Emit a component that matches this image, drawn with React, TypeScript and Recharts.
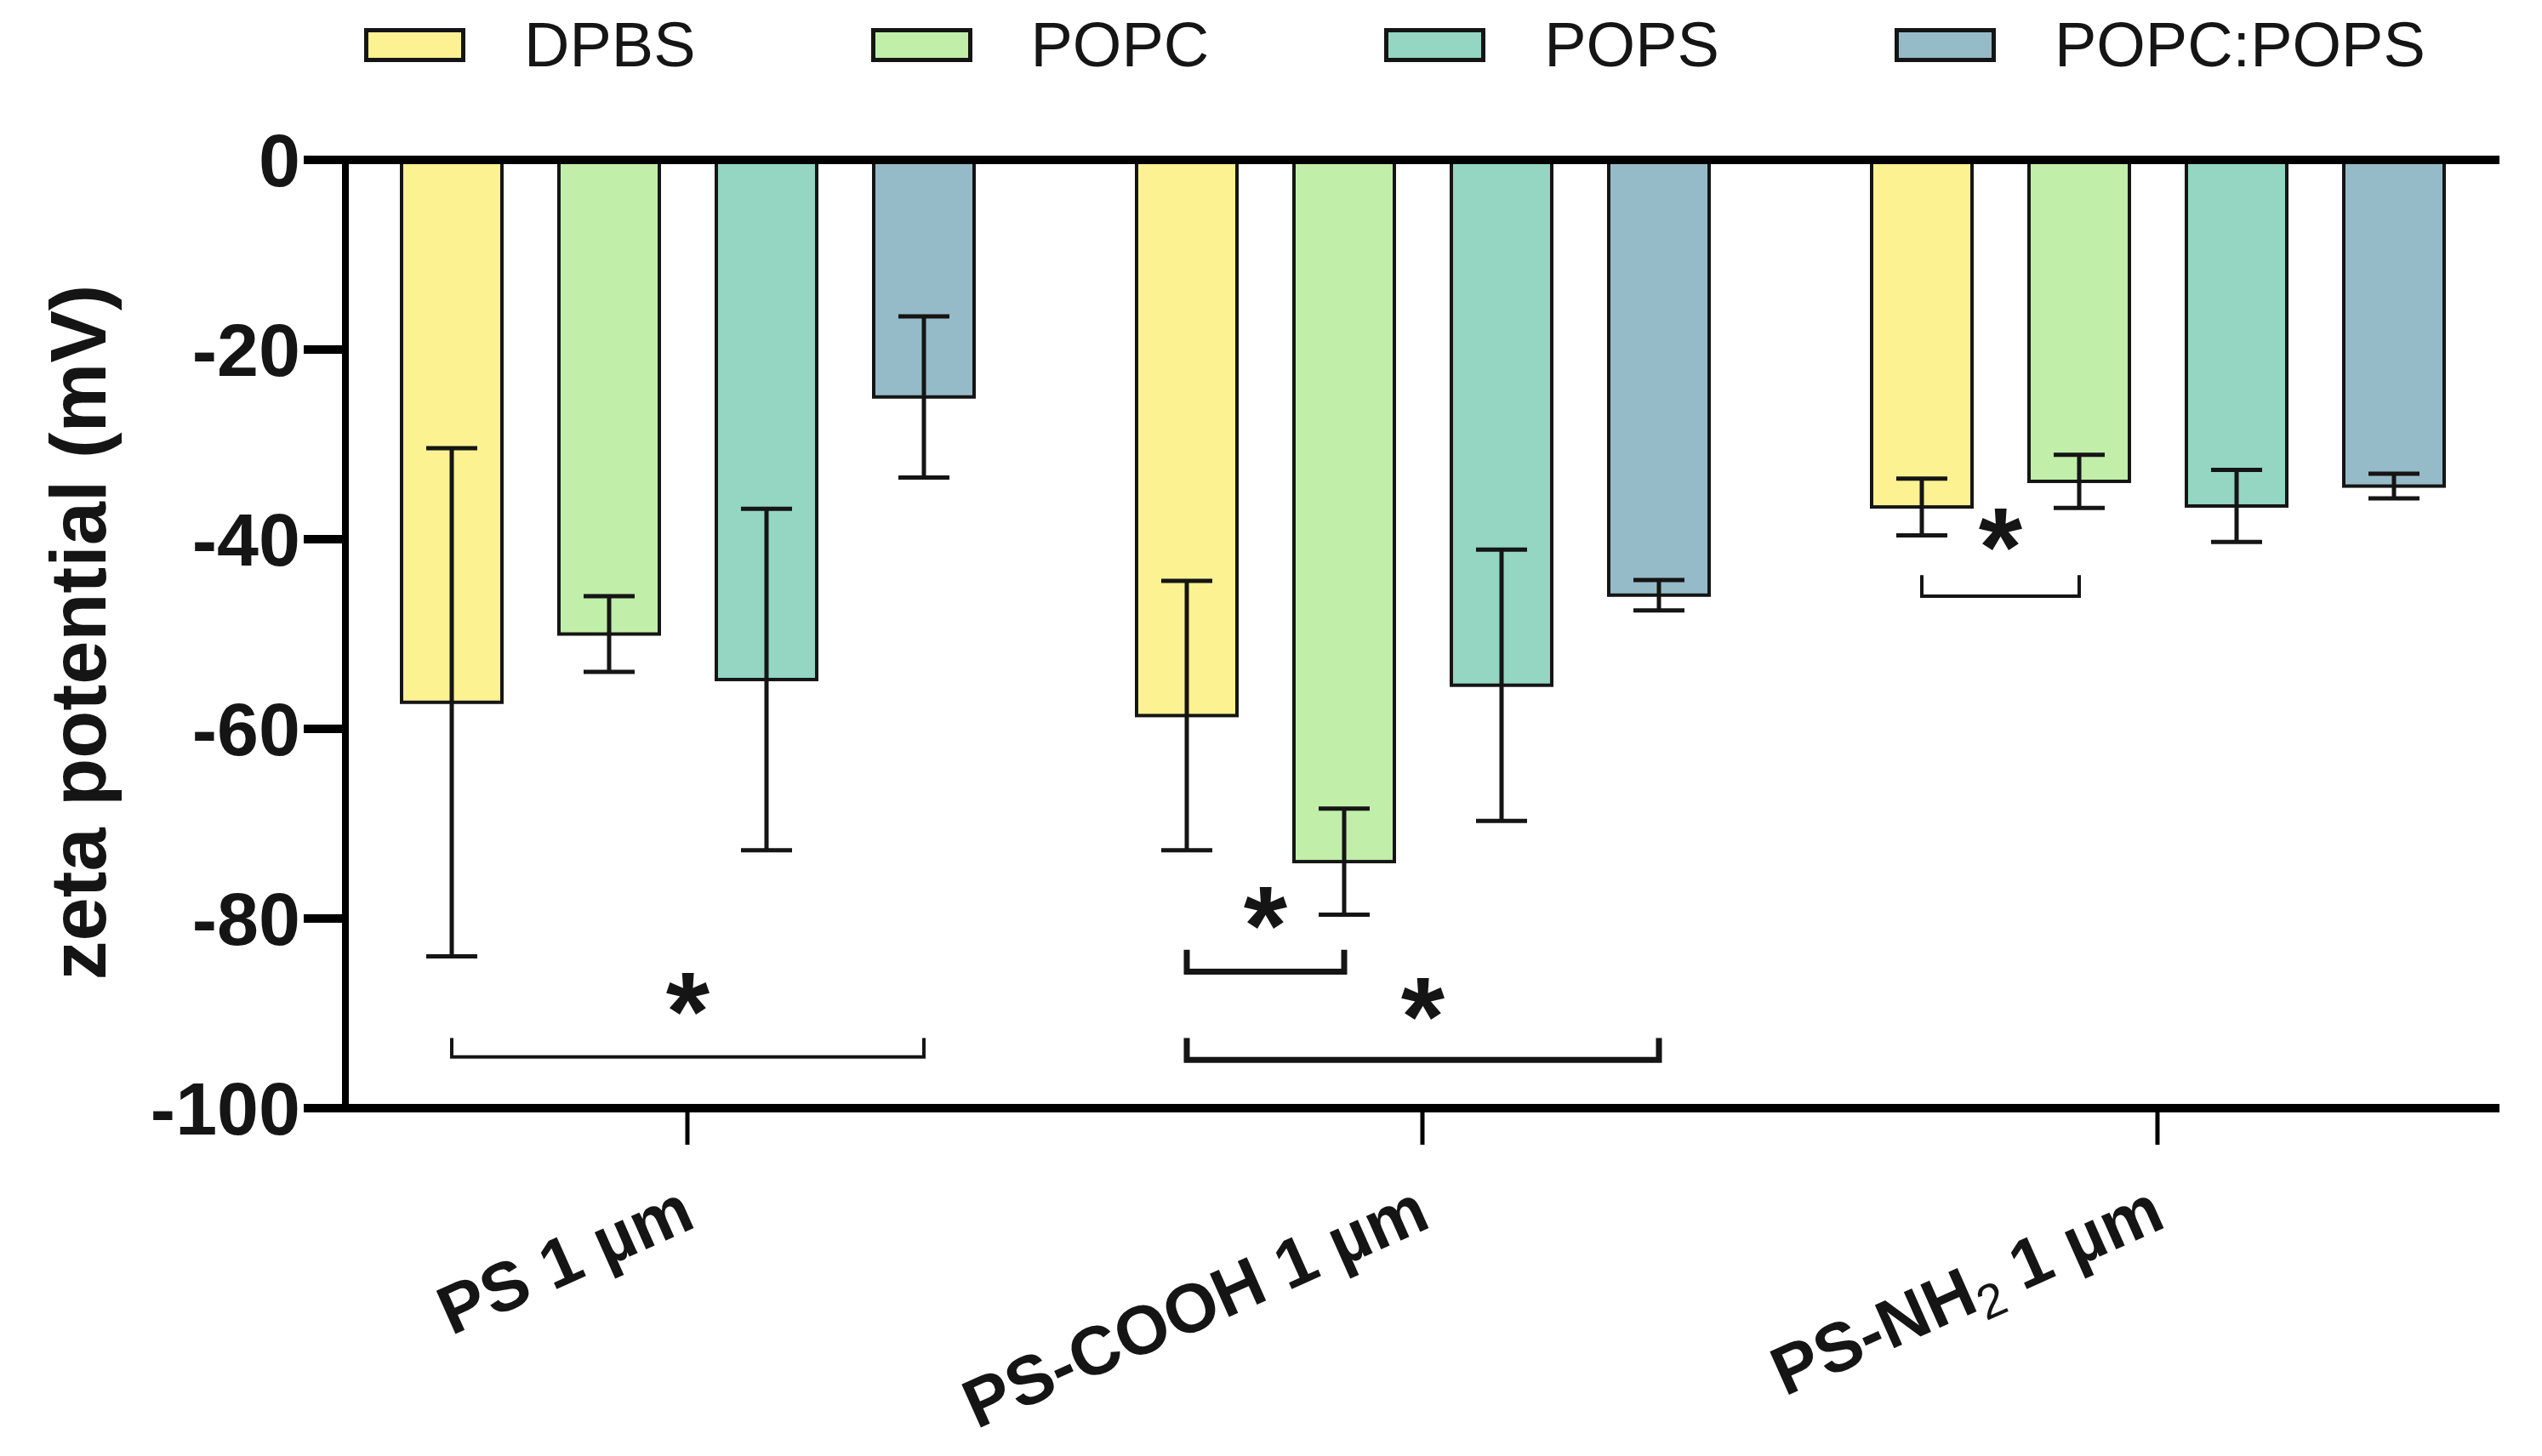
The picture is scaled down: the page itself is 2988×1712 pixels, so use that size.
import React from 'react';
import { BarChart, Bar, XAxis, YAxis, ErrorBar, ReferenceLine, Legend, Label } from 'recharts';

// ---------- data ----------
const categories = ['PS 1 µm', 'PS-COOH 1 µm', 'PS-NH2 1 µm'];
const seriesKeys = ['DPBS', 'POPC', 'POPS', 'MIX'];
const seriesNames = ['DPBS', 'POPC', 'POPS', 'POPC:POPS'];
const seriesColors = ['#FDF291', '#C1EEA9', '#94D6C2', '#96BBC8'];

const dpbsMean = [-57.2, -58.6, -36.6];
const dpbsSd = [26.8, 14.2, 3.0];
const popcMean = [-50.0, -74.0, -33.9];
const popcSd = [4.0, 5.6, 2.8];
const popsMean = [-54.8, -55.4, -36.5];
const popsSd = [18.0, 14.3, 3.8];
const mixMean = [-25.0, -45.9, -34.4];
const mixSd = [8.5, 1.6, 1.3];

const yTicks = [0, -20, -40, -60, -80, -100];

// significance brackets: category index, from/to series index, line level, tip level, star level
const bracketCat = [0, 1, 1, 2];
const bracketFrom = [0, 0, 0, 0];
const bracketTo = [3, 1, 3, 1];
const bracketLevel = [-94.6, -85.6, -94.9, -46.0];
const bracketTip = [-92.6, -83.3, -92.6, -43.8];
const starLevel = [-88.0, -78.9, -88.5, -39.0];
const starLabel = ['*', '*', '*', '*'];
const bracketWeight = [4, 7, 7, 4];

const means = [dpbsMean, popcMean, popsMean, mixMean];
const sds = [dpbsSd, popcSd, popsSd, mixSd];

const data = categories.map((c, i) => {
  const row: any = { category: c };
  seriesKeys.forEach((k, s) => {
    row[k] = means[s][i];
    row[k + '_sd'] = sds[s][i];
  });
  return row;
});

// ---------- style ----------
const FONT = '"Liberation Sans", Arial, Helvetica, sans-serif';
const BAR_SIZE = 118;
const BAR_GAP = 67;
const INK = '#151515';

const XTick = (props: any) => {
  const { x, y, payload } = props;
  const label: string = payload.value;
  const fs = 81;
  let content: any = label;
  if (label.includes('NH2')) {
    const [pre, post] = label.split('NH2');
    content = [
      <tspan key="a">{pre + 'NH'}</tspan>,
      <tspan key="b" fontWeight="normal" fontSize={57} dy={15}>2</tspan>,
      <tspan key="c" dy={-15}>{post}</tspan>,
    ];
  }
  return (
    <g transform={`translate(${x + 12},${y + 96})`}>
      <text textAnchor="end" transform="rotate(-24)" fontSize={fs} fontWeight="bold" fontFamily={FONT} fill={INK}>
        {content}
      </text>
    </g>
  );
};

const YTick = (props: any) => {
  const { x, y, payload } = props;
  return (
    <text x={x} y={y} dy={31} textAnchor="end" fontSize={88} fontWeight="bold" fontFamily={FONT} fill={INK}>
      {payload.value}
    </text>
  );
};

const YLabel = (props: any) => {
  const { viewBox } = props;
  const cx = viewBox.x + 84;
  const cy = viewBox.y + viewBox.height / 2 - 2;
  return (
    <text x={cx} y={cy} transform={`rotate(-90, ${cx}, ${cy})`} textAnchor="middle" dominantBaseline="central"
      fontSize={92} fontWeight="bold" fontFamily={FONT} fill={INK}>
      zeta potential (mV)
    </text>
  );
};

const LegendContent = (props: any) => {
  const payload = [...(props.payload || [])].sort(
    (a: any, b: any) => seriesNames.indexOf(a.value) - seriesNames.indexOf(b.value)
  );
  return (
    <div style={{ display: 'flex', flexDirection: 'row', alignItems: 'center', gap: 206, fontFamily: FONT }}>
      {payload.map((p: any, i: number) => (
        <div key={i} style={{ display: 'flex', alignItems: 'center' }}>
          <div style={{ width: 109, height: 30, background: p.color, border: `5px solid ${INK}`, marginRight: 69 }} />
          <span style={{ fontSize: 74, lineHeight: '74px', color: INK, whiteSpace: 'nowrap' }}>{p.value}</span>
        </div>
      ))}
    </div>
  );
};

const makeShape = (seriesIndex: number) => (props: any) => {
  const { x, y, width, height, payload, index, fill } = props;
  const top = Math.min(y, y + height);
  const h = Math.abs(height);
  const els: any[] = [
    <rect key="r" x={x} y={top} width={width} height={h} fill={fill} stroke={INK} strokeWidth={4} />,
  ];
  if (seriesIndex === 0) {
    const v = payload[seriesKeys[0]];
    const ppu = h / Math.abs(v);
    const y0 = top;
    const py = (val: number) => y0 - val * ppu;
    const cx = (s: number) => x + width / 2 + s * (width + BAR_GAP);
    bracketCat.forEach((c, b) => {
      if (c !== index) return;
      const x1 = cx(bracketFrom[b]);
      const x2 = cx(bracketTo[b]);
      const yl = py(bracketLevel[b]);
      const yt = py(bracketTip[b]);
      const sw = bracketWeight[b];
      els.push(
        <polyline key={'b' + b} points={`${x1},${yt} ${x1},${yl} ${x2},${yl} ${x2},${yt}`} fill="none" stroke={INK} strokeWidth={sw} />
      );
      const fsz = 132;
      els.push(
        <text key={'s' + b} x={(x1 + x2) / 2} y={py(starLevel[b]) + 0.5 * fsz} textAnchor="middle" fontSize={fsz}
          fontWeight="bold" fontFamily={FONT} fill={INK}>{starLabel[b]}</text>
      );
    });
  }
  return <g>{els}</g>;
};

export default function App() {
  return (
    <div style={{ width: 2980, height: 1704, background: '#fff', fontFamily: FONT }}>
      <BarChart width={2980} height={1704} data={data} margin={{ top: 180, right: 50, bottom: 9, left: 0 }}
        barSize={BAR_SIZE} barGap={BAR_GAP}>
        <XAxis dataKey="category" height={400} padding={{ left: -30, right: -30 }} interval={0}
          axisLine={{ stroke: '#000', strokeWidth: 10 }} tickLine={{ stroke: '#000', strokeWidth: 5 }}
          tickSize={43} tickMargin={0} tick={<XTick />} />
        <YAxis type="number" width={398} domain={[-100, 0]} ticks={yTicks} interval={0}
          axisLine={{ stroke: '#000', strokeWidth: 8 }} tickLine={{ stroke: '#000', strokeWidth: 10 }}
          tickSize={49} tickMargin={4} tick={<YTick />}>
          <Label content={<YLabel />} />
        </YAxis>
        <Legend layout="horizontal" verticalAlign="middle" align="center" itemSorter={null as any}
          wrapperStyle={{ top: 8, left: 420, width: 'auto', height: 'auto' }} content={<LegendContent />} />
        {seriesKeys.map((k, s) => (
          <Bar key={k} dataKey={k} name={seriesNames[s]} fill={seriesColors[s]} stroke={INK} strokeWidth={4}
            isAnimationActive={false} shape={makeShape(s)}>
            <ErrorBar dataKey={k + '_sd'} width={30} stroke={INK} strokeWidth={5} direction="y" isAnimationActive={false} />
          </Bar>
        ))}
        <ReferenceLine y={0} stroke="#000" strokeWidth={10} />
      </BarChart>
    </div>
  );
}
